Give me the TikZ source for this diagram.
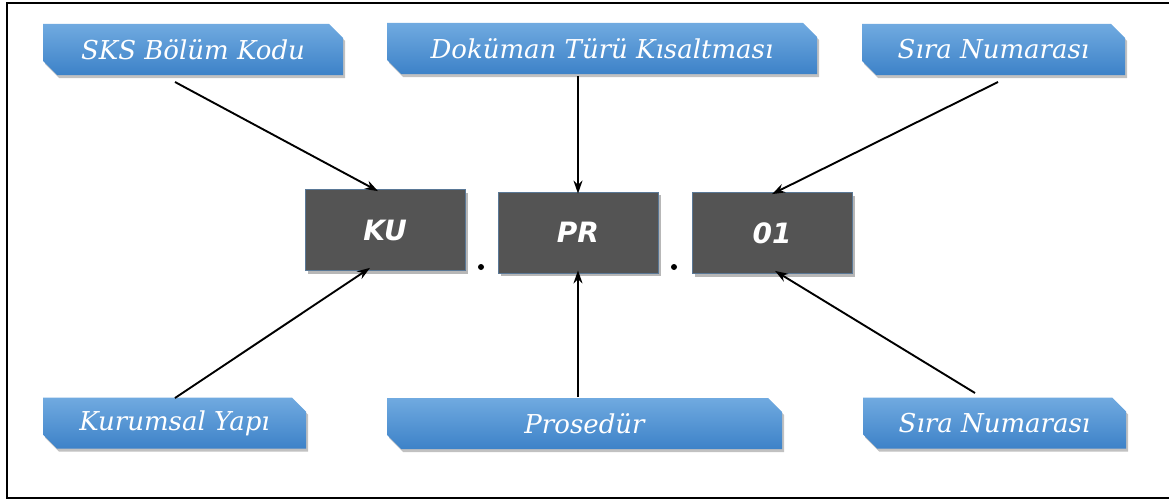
\documentclass[tikz,border=0pt]{standalone}
\usepackage{fontspec}
\newfontfamily\labfont{DejaVu Serif}
\newfontfamily\boxfont{DejaVu Sans}
\usetikzlibrary{shapes.misc,shadows,arrows.meta}
\definecolor{labtop}{HTML}{70AAE0}
\definecolor{labbot}{HTML}{3D82C8}
\definecolor{codefill}{HTML}{545454}
\definecolor{codeedge}{HTML}{5A7896}
\tikzset{
  lab/.style={chamfered rectangle, chamfered rectangle corners={north east,south west},
    chamfered rectangle xsep=7pt, chamfered rectangle ysep=7pt,
    top color=labtop, bottom color=labbot, draw=none, inner sep=0pt,
    minimum height=51pt, text=white,
    font=\labfont\itshape\fontsize{26}{30}\selectfont,
    drop shadow={shadow xshift=2pt, shadow yshift=-3pt, opacity=0.35, fill=black!70}},
  codebox/.style={rectangle, fill=codefill, draw=codeedge, line width=0.8pt,
    minimum width=160pt, minimum height=81pt, inner sep=0pt, text=white,
    font=\boxfont\bfseries\itshape\fontsize{28}{32}\selectfont,
    drop shadow={shadow xshift=3pt, shadow yshift=-3pt, opacity=0.4, fill=black!70}},
  arr/.style={-{Stealth[length=13pt,width=9pt]}, line width=1.9pt, black},
  dotmark/.style={circle, fill=black, inner sep=0pt, minimum size=6pt}
}
\begin{document}
\begin{tikzpicture}[x=1pt,y=-1pt]
\useasboundingbox (0,0) rectangle (1169,503);
\draw[line width=1.6pt] (1169,3) -- (7,3) -- (7,498) -- (1169,498);

\node[lab, minimum width=300pt] (L1) at (193,49.5) {SKS Bölüm Kodu};
\node[lab, minimum width=430pt] (L2) at (602,48.5) {Doküman Türü Kısaltması};
\node[lab, minimum width=263pt] (L3) at (993.5,49.5) {Sıra Numarası};
\node[lab, minimum width=263pt] (L4) at (174.5,423) {Kurumsal Yapı};
\node[lab, minimum width=395pt] (L5) at (584.5,423.5) {Prosedür};
\node[lab, minimum width=263pt] (L6) at (994.5,423) {Sıra Numarası};

\node[codebox] (KU) at (385,230) {KU};
\node[codebox] (PR) at (578,232.5) {PR};
\node[codebox] (N01) at (772,233) {01};

\node[dotmark] (d1) at (481,267) {};
\node[dotmark] (d2) at (674,267) {};

\coordinate (s1) at (175,82);
\coordinate (s2) at (578,76);
\coordinate (s3) at (998,82);
\coordinate (s4) at (175,398);
\coordinate (s5) at (578,397);
\coordinate (s6) at (975,393);

\draw[arr] (s1) -- ([xshift=-7pt,yshift=-2pt]KU.north);
\draw[arr] (s2) -- ([yshift=-2pt]PR.north);
\draw[arr] (s3) -- ([yshift=-2pt]N01.north);
\draw[arr] (s4) -- ([xshift=-15pt,yshift=3pt]KU.south);
\draw[arr] (s5) -- ([yshift=3pt]PR.south);
\draw[arr] (s6) -- ([xshift=3pt,yshift=3pt]N01.south);
\end{tikzpicture}
\end{document}
